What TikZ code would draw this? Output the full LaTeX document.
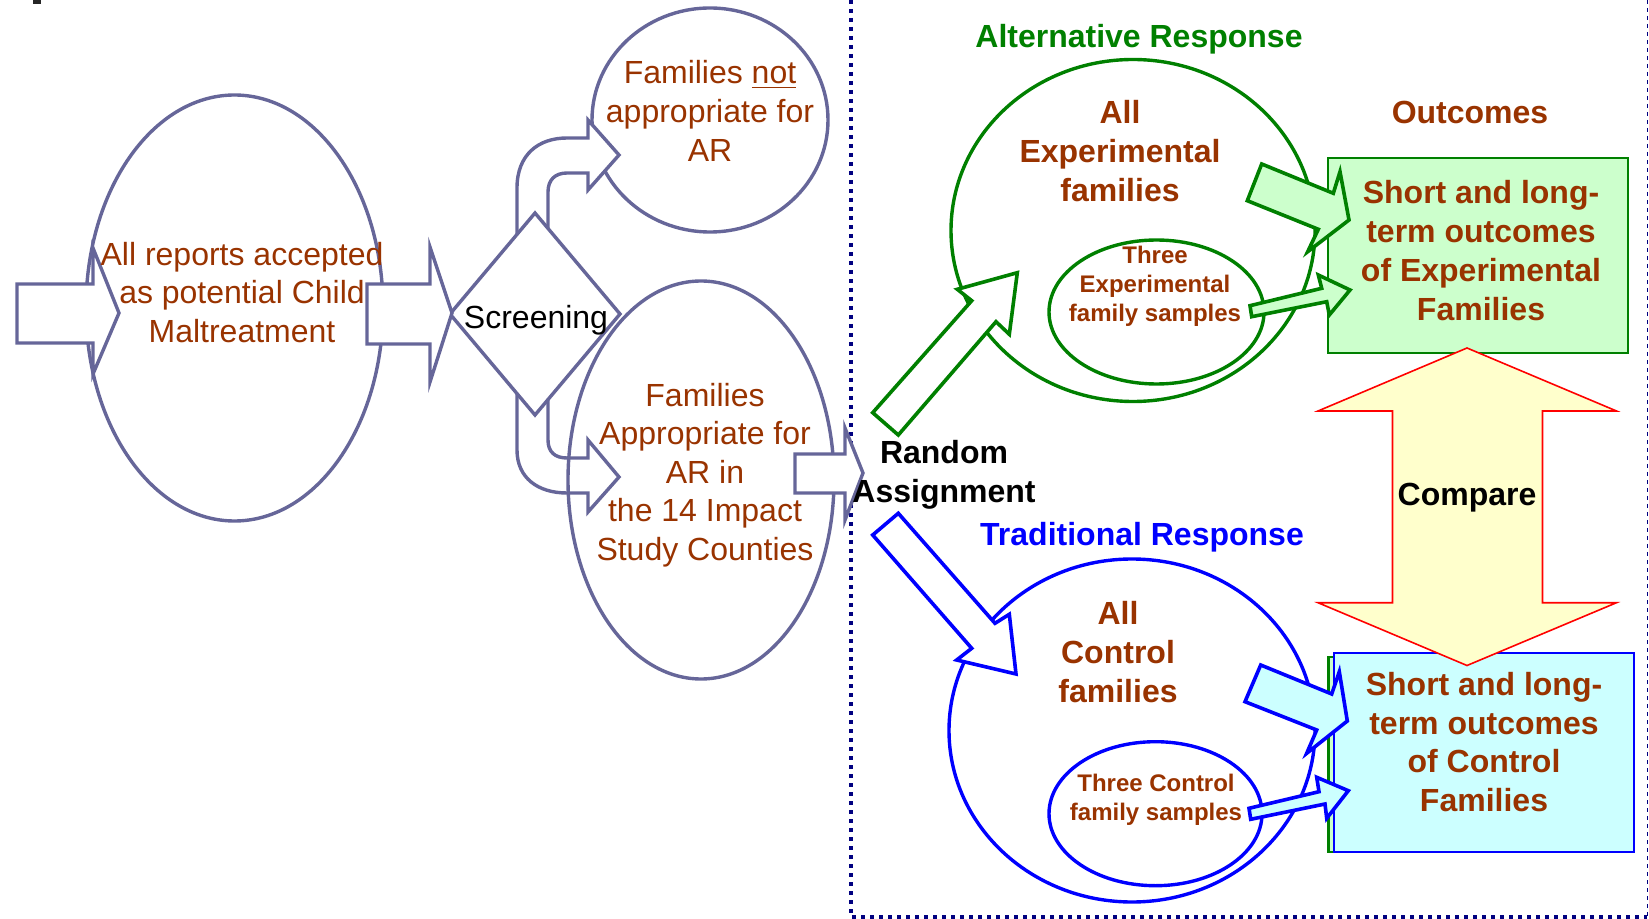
\documentclass[tikz,border=0pt]{standalone}
\usepackage{fontspec}
\setmainfont{Liberation Sans}
\usetikzlibrary{shapes.geometric}
\definecolor{slate}{RGB}{102,102,153}
\definecolor{brownT}{RGB}{153,51,0}
\definecolor{grn}{RGB}{0,128,0}
\definecolor{lgrn}{RGB}{204,255,204}
\definecolor{lcyan}{RGB}{204,255,255}
\definecolor{lyel}{RGB}{255,255,204}
\definecolor{navyD}{RGB}{0,0,128}
\definecolor{blu}{RGB}{0,0,255}
\begin{document}
\begin{tikzpicture}[x=0.5pt,y=-0.5pt,
  every node/.style={inner sep=0pt, outer sep=0pt},
  slateshape/.style={draw=slate, line width=1.7pt, fill=white, line join=miter},
  ell/.style={ellipse, draw, line width=1.7pt},
  txt/.style={align=center, font=\fontsize{16}{19.3}\selectfont, text=brownT},
  btxt/.style={align=center, font=\fontsize{16}{19.4}\selectfont\bfseries, text=brownT},
  stxt/.style={align=center, font=\fontsize{12}{14.4}\selectfont\bfseries, text=brownT},
  garrow/.style={draw=grn, line width=1.8pt, line join=miter},
  barrow/.style={draw=blu, line width=1.8pt, line join=miter},
  border/.style={draw=navyD, line width=2pt, dash pattern=on 1.8pt off 2.7pt},
]
\useasboundingbox (0,0) rectangle (1649,919);
\fill[white] (0,0) rectangle (1649,919);
\fill[black!85] (33,0) rectangle (41,4);

% left part
\node[ell, draw=slate, minimum width=148.5pt, minimum height=213pt] (reports) at (234.5,308) {};
\node[ell, draw=slate, minimum width=118pt, minimum height=112pt] (notap) at (710,120) {};
\draw[slateshape] (517,245) -- (517,188) .. controls (517,155) and (538,138) .. (567,138) -- (588,138) -- (588,120) -- (619,155) -- (588,190) -- (588,173) -- (567,173) .. controls (555,173) and (548,180) .. (548,192) -- (548,245) -- cycle;
\draw[slateshape] (517,385) -- (517,450) .. controls (517,478) and (538,493) .. (567,493) -- (588,493) -- (588,512) -- (619,477) -- (588,440) -- (588,458) -- (567,458) .. controls (555,458) and (548,452) .. (548,440) -- (548,385) -- cycle;
\node[ell, draw=slate, minimum width=133pt, minimum height=199pt] (approp) at (701,480) {};
\node[diamond, draw=slate, line width=1.7pt, fill=white, minimum width=85pt, minimum height=101pt] (screen) at (535,314) {};
\draw[slateshape] (17,284) -- (93,284) -- (93,248) -- (119,313) -- (93,374) -- (93,343) -- (17,343) -- cycle;
\draw[slateshape] (367,284) -- (430,284) -- (430,247) -- (452,313) -- (430,382) -- (430,344) -- (367,344) -- cycle;

% dotted border
\draw[border] (851,0) -- (851,917) -- (1647,917);
\draw[navyD, line width=0.6pt, dash pattern=on 2pt off 2pt] (1647.5,0) -- (1647.5,917);
\draw[slateshape] (795,454) -- (845,454) -- (845,428) -- (863,473) -- (845,520) -- (845,493) -- (795,493) -- cycle;

% right part
\node[ell, draw=grn, minimum width=182pt, minimum height=171pt] (expAll) at (1133,230.5) {};
\node[ell, draw=grn, minimum width=107.5pt, minimum height=72pt] (expS) at (1156.5,312) {};
\node[ell, draw=blu, minimum width=183pt, minimum height=171.5pt] (ctlAll) at (1132,730.5) {};
\node[ell, draw=blu, minimum width=106.5pt, minimum height=72pt] (ctlS) at (1155.5,813.7) {};
\node[draw=grn, line width=1.2pt, fill=lgrn, minimum width=150pt, minimum height=97.5pt] (expOut) at (1478,255.5) {};
\node[draw=grn, line width=1.2pt, fill=lgrn, minimum width=150pt, minimum height=97.5pt] (ctlBack) at (1478.5,754.5) {};
\node[draw=blu, line width=1.2pt, fill=lcyan, minimum width=150pt, minimum height=99.5pt] (ctlOut) at (1484,752.5) {};

\draw[garrow, fill=white] (872.7,412.7) -- (971.7,300.7) -- (957.3,289.3) -- (1017.3,272.7) -- (1009.3,334.3) -- (996,321.7) -- (898.3,435) -- cycle;
\draw[barrow, fill=white] (872.7,535) -- (971.7,648.3) -- (956.7,660) -- (1016,674) -- (1009.3,614.3) -- (995,623.3) -- (898.3,513.3) -- cycle;
\draw[garrow, fill=lgrn] (1261.7,164) -- (1333.3,193.3) -- (1340,171.7) -- (1349,220) -- (1307.7,251.7) -- (1318.3,229.3) -- (1247.3,200.7) -- cycle;
\draw[garrow, fill=lgrn] (1250,305.7) -- (1321.7,288.3) -- (1318.3,275) -- (1350,290) -- (1329.3,315) -- (1326.7,301.7) -- (1251.7,316.7) -- cycle;
\draw[barrow, fill=lcyan] (1260.7,665) -- (1331.7,694) -- (1339.3,671.7) -- (1347.3,721) -- (1306.7,753.3) -- (1316.7,730) -- (1245,701.7) -- cycle;
\draw[barrow, fill=lcyan] (1249,808.3) -- (1319,791.7) -- (1316.7,777.3) -- (1348.3,790.7) -- (1326.7,818.3) -- (1325,804) -- (1250.7,819.3) -- cycle;
\draw[draw=red, line width=0.8pt, fill=lyel, line join=miter] (1467,348) -- (1616.5,411) -- (1542.5,411) -- (1542.5,602.7) -- (1616.5,602.7) -- (1467,665.5) -- (1318,602.7) -- (1392.5,602.7) -- (1392.5,411) -- (1318,411) -- cycle;

% texts
\node[txt] (reportsT) at (242,292.5) {All reports accepted\\as potential Child\\Maltreatment};
\node[txt] (notapT) at (710,111) {Families \underline{not}\\appropriate for\\AR};
\node[txt] (appropT) at (705,475) {Families\\Appropriate for\\AR in\\the 14 Impact\\Study Counties};
\node[font=\fontsize{16}{19.3}\selectfont] (screenT) at (536,320) {Screening};
\node[btxt, text=black] (randT) at (944,475) {Random\\Assignment};
\node[btxt, text=grn] (altT) at (1139,39) {Alternative Response};
\node[btxt] (outT) at (1470,112.5) {Outcomes};
\node[btxt] (expAllT) at (1120,151) {All\\Experimental\\families};
\node[stxt] (expST) at (1155,286) {Three\\Experimental\\family samples};
\node[btxt] (expOutT) at (1481,250.5) {Short and long-\\term outcomes\\of Experimental\\Families};
\node[btxt, text=black] (cmpT) at (1467,498) {Compare};
\node[btxt, text=blu] (tradT) at (1142,537) {Traditional Response};
\node[btxt] (ctlAllT) at (1118,652) {All\\Control\\families};
\node[stxt] (ctlST) at (1156,800) {Three Control\\family samples};
\node[btxt] (ctlOutT) at (1484,742) {Short and long-\\term outcomes\\of Control\\Families};
\end{tikzpicture}
\end{document}
